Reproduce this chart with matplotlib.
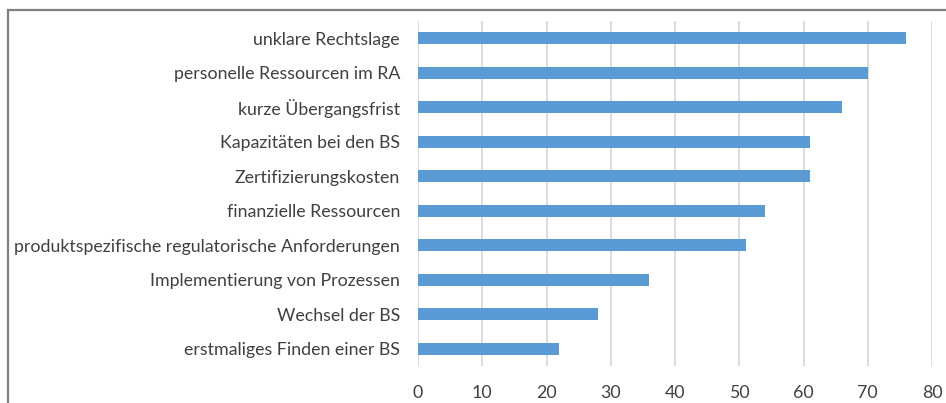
import matplotlib
matplotlib.use("Agg")
import matplotlib.pyplot as plt
from matplotlib.patches import Rectangle

categories = [
    "unklare Rechtslage",
    "personelle Ressourcen im RA",
    "kurze Übergangsfrist",
    "Kapazitäten bei den BS",
    "Zertifizierungskosten",
    "finanzielle Ressourcen",
    "produktspezifische regulatorische Anforderungen",
    "Implementierung von Prozessen",
    "Wechsel der BS",
    "erstmaliges Finden einer BS",
]
values = [76, 70, 66, 61, 61, 54, 51, 36, 28, 22]
xticks = [0, 10, 20, 30, 40, 50, 60, 70, 80]

plt.rcParams['font.family'] = ['Lato', 'DejaVu Sans']
W, H = 946, 403
fig = plt.figure(figsize=(W / 100, H / 100), dpi=100)
ax = fig.add_axes([418 / W, 1 - 366 / H, (932 - 418) / W, (366 - 21) / H])

ypos = list(range(len(categories)))
ax.barh(ypos, values, height=0.35, color="#5B9BD5", zorder=3)
ax.set_ylim(len(categories) - 0.5, -0.5)
ax.set_xlim(0, 80)
ax.set_xticks(xticks)
ax.set_xticklabels([str(t) for t in xticks])
ax.set_yticks(ypos)
ax.set_yticklabels(categories)
ax.grid(axis="x", color="#d9d9d9", linewidth=1.3, zorder=0)
for s in ax.spines.values():
    s.set_visible(False)
ax.tick_params(axis="both", length=0, colors="#404040", labelsize=12.8)
ax.tick_params(axis="y", pad=13)
ax.tick_params(axis="x", pad=14)

fig.patches.append(Rectangle((8 / W, -0.1), 1.2, 1.1 - 10 / H + 0.0,
                             transform=fig.transFigure, fill=False,
                             edgecolor="#808080", linewidth=1.6))

fig.savefig("out.png", dpi=100)
